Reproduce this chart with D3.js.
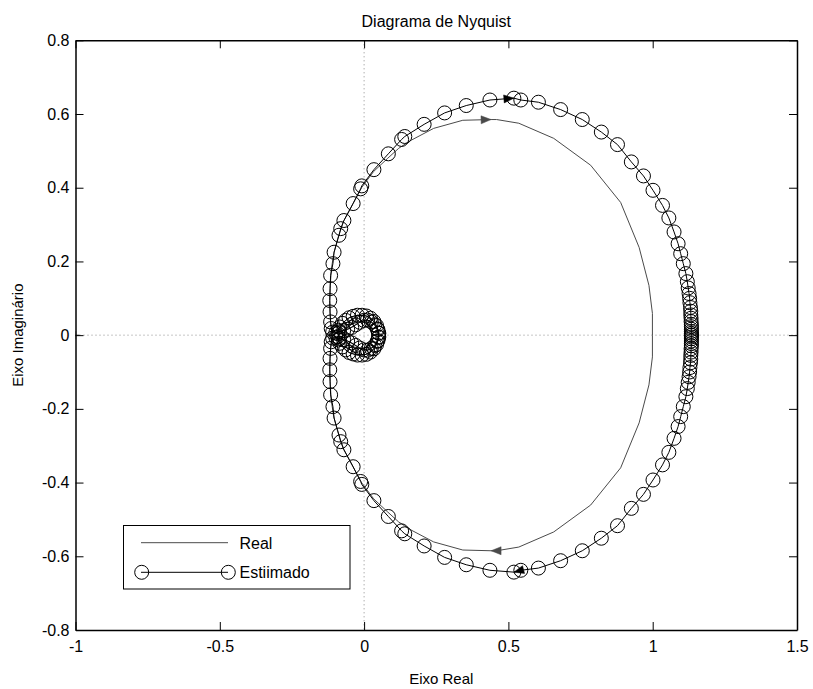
<!DOCTYPE html>
<html>
<head>
<meta charset="utf-8">
<script src="https://cdn.jsdelivr.net/npm/d3@7"></script>
<style>
  body { margin: 0; background: #fff; }
  svg { display: block; }
  text { font-family: "Liberation Sans", Arial, Helvetica, sans-serif; fill: #000; }
</style>
</head>
<body>
<svg id="chart" width="813" height="689"></svg>
<script>
// Axis ticks
const xTicks = [-1, -0.5, 0, 0.5, 1, 1.5];
const yTicks = [-0.8, -0.6, -0.4, -0.2, 0, 0.2, 0.4, 0.6, 0.8];

// Frequency response for w >= 0 (the w < 0 branch is its complex conjugate)
// "Real" system
const realRe = [0.999, 0.999, 0.987, 0.953, 0.889, 0.785, 0.657, 0.536, 0.459, 0.440, 0.342, 0.241, 0.161,
  0.120, 0.082, 0.033, -0.008, -0.040, -0.071, -0.091, -0.105, -0.114, -0.117, -0.119, -0.118, -0.116,
  -0.112, -0.105, -0.098, -0.057, -0.015, 0.012, 0.037, 0.050, 0.048, 0.034, 0.008, -0.023, -0.052,
  -0.075, -0.089, -0.091];
const realIm = [0.000, -0.059, -0.135, -0.238, -0.360, -0.461, -0.534, -0.575, -0.585, -0.585, -0.583, -0.561, -0.528,
  -0.507, -0.480, -0.444, -0.401, -0.355, -0.309, -0.263, -0.222, -0.176, -0.135, -0.094, -0.062, -0.035,
  -0.016, -0.004, -0.006, -0.016, -0.035, -0.041, -0.028, -0.006, 0.015, 0.037, 0.052, 0.054, 0.047,
  0.032, 0.013, 0.004];
const realArrowIdx = 9;

// Estimated model
const estRe = [1.134, 1.134, 1.134, 1.134, 1.134, 1.134, 1.133, 1.133, 1.132, 1.132, 1.131, 1.129, 1.128, 1.126,
  1.123, 1.120, 1.115, 1.106, 1.097, 1.088, 1.074, 1.056, 1.034, 1.001, 0.968, 0.926, 0.878, 0.822, 0.756,
  0.681, 0.604, 0.543, 0.519, 0.436, 0.354, 0.279, 0.208, 0.141, 0.130, 0.084, 0.034, -0.008, -0.012,
  -0.038, -0.070, -0.081, -0.087, -0.104, -0.108, -0.116, -0.118, -0.119, -0.118, -0.116, -0.114, -0.109,
  -0.098, -0.085, -0.071, -0.057, -0.043, -0.029, -0.015, -0.001, 0.012, 0.025, 0.037, 0.045, 0.050,
  0.051, 0.048, 0.043, 0.034, 0.022, 0.008, -0.007, -0.023, -0.038, -0.052, -0.064, -0.075, -0.084,
  -0.089, -0.091];
const estIm = [0.000, -0.005, -0.010, -0.016, -0.023, -0.029, -0.037, -0.046, -0.055, -0.065, -0.075, -0.088, -0.100, -0.113,
  -0.128, -0.145, -0.167, -0.194, -0.221, -0.248, -0.280, -0.318, -0.352, -0.393, -0.432, -0.470, -0.517, -0.551, -0.585,
  -0.612, -0.632, -0.638, -0.643, -0.638, -0.623, -0.603, -0.572, -0.539, -0.531, -0.492, -0.449, -0.405, -0.397,
  -0.357, -0.311, -0.289, -0.271, -0.225, -0.194, -0.162, -0.126, -0.094, -0.063, -0.036, -0.018, -0.008,
  -0.006, -0.009, -0.012, -0.016, -0.021, -0.028, -0.035, -0.040, -0.041, -0.036, -0.028, -0.017, -0.006,
  0.005, 0.015, 0.026, 0.037, 0.046, 0.052, 0.054, 0.054, 0.051, 0.047, 0.040, 0.032, 0.022,
  0.013, 0.004];
const estArrowIdx = 32;

const legendLabels = ["Real", "Estiimado"];

const plot = { left: 75.5, right: 797, top: 40.3, bottom: 630 };

const svg = d3.select("#chart");
const x = d3.scaleLinear().domain([-1, 1.5]).range([plot.left, plot.right]);
const y = d3.scaleLinear().domain([-0.8, 0.8]).range([plot.bottom, plot.top]);

// Full Nyquist contour: w from -inf to +inf
function contour(re, im) {
  const pos = re.map((r, i) => [r, im[i]]);
  const neg = pos.map(([r, i]) => [r, -i]).reverse();
  return neg.concat(pos);
}
const realPts = contour(realRe, realIm);
const estPts = contour(estRe, estIm);

svg.append("defs").append("clipPath").attr("id", "plotClip")
  .append("rect").attr("x", plot.left).attr("y", plot.top)
  .attr("width", plot.right - plot.left).attr("height", plot.bottom - plot.top);

const g = svg.append("g").attr("clip-path", "url(#plotClip)");

// Real/imaginary zero lines
g.append("line").attr("x1", x(0)).attr("x2", x(0)).attr("y1", plot.top).attr("y2", plot.bottom)
  .attr("stroke", "#8c8c8c").attr("stroke-width", 1).attr("stroke-dasharray", "1,3");
g.append("line").attr("x1", plot.left).attr("x2", plot.right).attr("y1", y(0)).attr("y2", y(0))
  .attr("stroke", "#8c8c8c").attr("stroke-width", 1).attr("stroke-dasharray", "1,3");

// Critical point (-1, 0)
const crit = g.append("g").attr("stroke", "#808080").attr("stroke-width", 1.5);
crit.append("line").attr("x1", x(-1) - 4).attr("x2", x(-1) + 4).attr("y1", y(0)).attr("y2", y(0));
crit.append("line").attr("x1", x(-1)).attr("x2", x(-1)).attr("y1", y(0) - 4).attr("y2", y(0) + 4);

const line = d3.line().x(d => x(d[0])).y(d => y(d[1]));

const realColor = "#4a4a4a";
g.append("path").datum(realPts).attr("d", line)
  .attr("fill", "none").attr("stroke", realColor).attr("stroke-width", 1);

g.append("path").datum(estPts).attr("d", line)
  .attr("fill", "none").attr("stroke", "#000").attr("stroke-width", 1);

g.append("g").selectAll("circle").data(estPts).join("circle")
  .attr("cx", d => x(d[0])).attr("cy", d => y(d[1])).attr("r", 7)
  .attr("fill", "none").attr("stroke", "#000").attr("stroke-width", 1);

// Direction arrows: tip at a vertex, pointing along the direction of travel
function arrow(tip, from, color) {
  const tx = x(tip[0]), ty = y(tip[1]);
  const fx = x(from[0]), fy = y(from[1]);
  const a = Math.atan2(ty - fy, tx - fx);
  const L = 10, Wd = 4;
  const bx = tx - L * Math.cos(a), by = ty - L * Math.sin(a);
  const px = -Math.sin(a) * Wd, py = Math.cos(a) * Wd;
  g.append("path")
    .attr("d", `M${tx},${ty}L${bx + px},${by + py}L${bx - px},${by - py}Z`)
    .attr("fill", color).attr("stroke", color).attr("stroke-width", 0.5);
}
function arrowsFor(re, im, k, color) {
  arrow([re[k], im[k]], [re[k - 1], im[k - 1]], color);       // w > 0
  arrow([re[k], -im[k]], [re[k + 1], -im[k + 1]], color);     // w < 0, mirrored and reversed
}
arrowsFor(realRe, realIm, realArrowIdx, realColor);
arrowsFor(estRe, estIm, estArrowIdx, "#000");

// Axes with inward ticks on all four sides
const fmt = d => String(d);
const axisStyle = sel => {
  sel.select(".domain").attr("stroke", "#000").attr("stroke-width", 1.5);
  sel.selectAll(".tick line").attr("stroke", "#000").attr("stroke-width", 1);
  sel.selectAll(".tick text").style("font-size", "16px").attr("fill", "#000");
};
svg.append("g").attr("transform", `translate(0,${plot.bottom})`)
  .call(d3.axisBottom(x).tickValues(xTicks).tickFormat(fmt).tickSizeInner(-8).tickSizeOuter(0).tickPadding(11))
  .call(axisStyle);
svg.append("g").attr("transform", `translate(0,${plot.top})`)
  .call(d3.axisTop(x).tickValues(xTicks).tickFormat("").tickSizeInner(-8).tickSizeOuter(0))
  .call(axisStyle);
svg.append("g").attr("transform", `translate(${plot.left},0)`)
  .call(d3.axisLeft(y).tickValues(yTicks).tickFormat(fmt).tickSizeInner(-8).tickSizeOuter(0).tickPadding(6))
  .call(axisStyle);
svg.append("g").attr("transform", `translate(${plot.right},0)`)
  .call(d3.axisRight(y).tickValues(yTicks).tickFormat("").tickSizeInner(-8).tickSizeOuter(0))
  .call(axisStyle);

// Titles
svg.append("text").attr("x", (plot.left + plot.right) / 2).attr("y", 26.5)
  .attr("text-anchor", "middle").style("font-size", "16px").text("Diagrama de Nyquist");
svg.append("text").attr("x", (plot.left + plot.right) / 2 + 5).attr("y", 684)
  .attr("text-anchor", "middle").style("font-size", "15px").text("Eixo Real");
svg.append("text").attr("transform", `translate(23,${(plot.top + plot.bottom) / 2}) rotate(-90)`)
  .attr("text-anchor", "middle").style("font-size", "15px").text("Eixo Imaginário");

// Legend
const lg = svg.append("g");
lg.append("rect").attr("x", 123.5).attr("y", 525.5).attr("width", 226.5).attr("height", 63.5)
  .attr("fill", "#fff").attr("stroke", "#000").attr("stroke-width", 1);
const rows = [
  { label: legendLabels[0], y: 542.7, color: realColor, markers: false },
  { label: legendLabels[1], y: 572.3, color: "#000", markers: true }
];
rows.forEach(r => {
  lg.append("line").attr("x1", 141).attr("x2", 228).attr("y1", r.y).attr("y2", r.y)
    .attr("stroke", r.color).attr("stroke-width", 1);
  if (r.markers) {
    [141.7, 228.3].forEach(cx => lg.append("circle").attr("cx", cx).attr("cy", r.y).attr("r", 7)
      .attr("fill", "none").attr("stroke", "#000").attr("stroke-width", 1));
  }
  lg.append("text").attr("x", 239.5).attr("y", r.y + 6).style("font-size", "16px").text(r.label);
});
</script>
</body>
</html>
